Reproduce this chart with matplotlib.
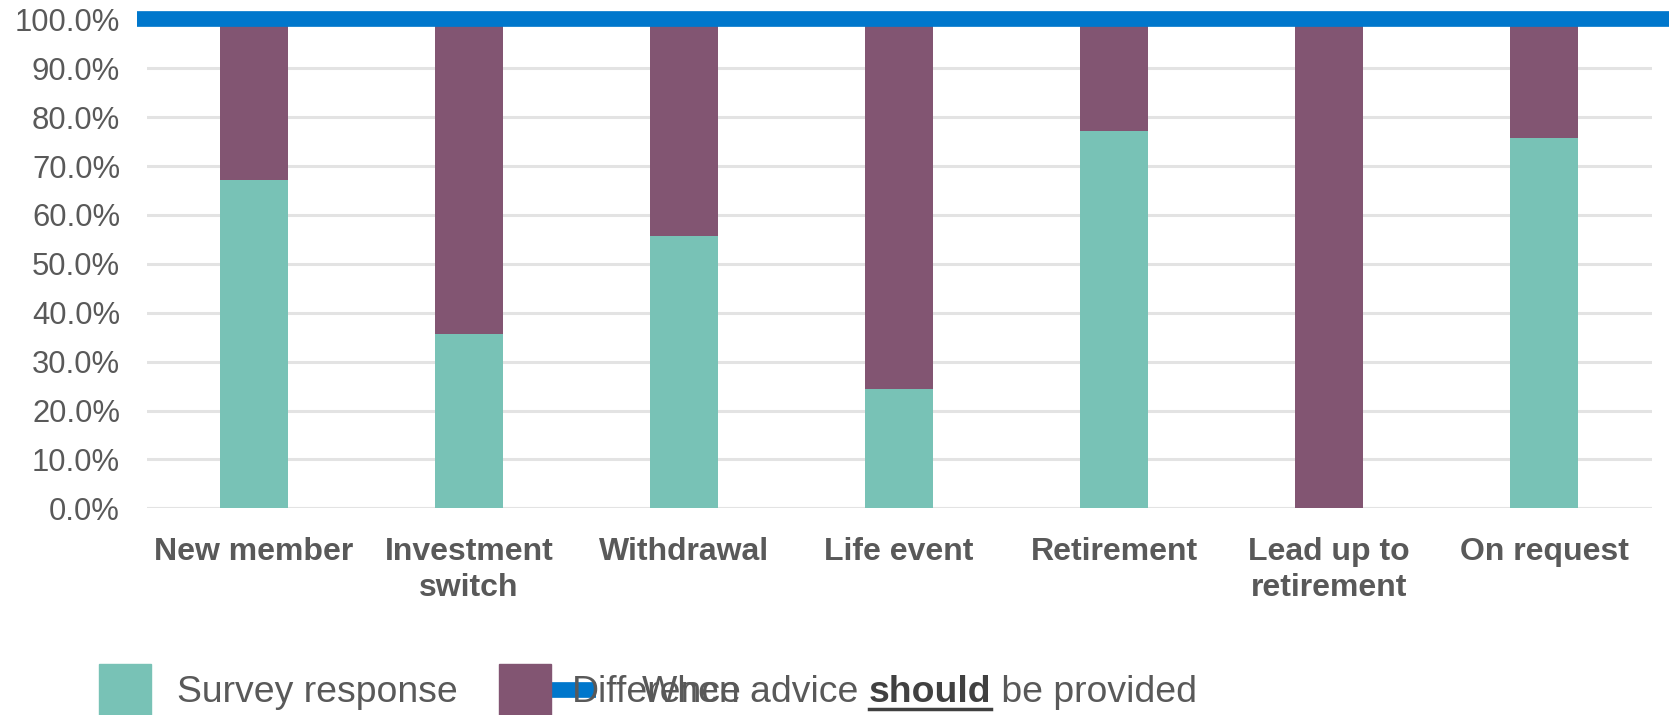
import matplotlib

matplotlib.use("Agg")
import matplotlib.pyplot as plt
from matplotlib.lines import Line2D
from matplotlib.patches import Rectangle
from matplotlib.ticker import PercentFormatter

plt.rcParams["font.family"] = ["Liberation Sans", "DejaVu Sans"]

categories = ["New member", "Investment\nswitch", "Withdrawal", "Life event",
              "Retirement", "Lead up to\nretirement", "On request"]
survey = [0.671, 0.356, 0.556, 0.243, 0.771, 0.0, 0.757]
difference = [1 - s for s in survey]
advice_level = 1.0
yticks = [i / 10 for i in range(11)]

TEAL = "#78C2B6"
PURPLE = "#825572"
BLUE = "#0077CC"
GRID = "#E3E3E3"
TEXT = "#595959"

W, H = 1669, 715
fig = plt.figure(figsize=(W / 100, H / 100), dpi=100, facecolor="white")
ax = fig.add_axes([146.5 / W, 1 - 508.3 / H, 1505 / W, (508.3 - 19.4) / H])

x = range(len(categories))
ax.bar(x, survey, width=0.315, color=TEAL, zorder=2)
ax.bar(x, difference, bottom=survey, width=0.315, color=PURPLE, zorder=2)
ax.axhline(advice_level, color=BLUE, lw=11.3, solid_capstyle="butt", zorder=3,
           clip_on=False, xmin=-0.006, xmax=1.02)

ax.set_xlim(-0.5, len(categories) - 0.5)
ax.set_ylim(0, 1)
ax.set_yticks(yticks)
ax.yaxis.set_major_formatter(PercentFormatter(1.0, decimals=1))
ax.set_xticks(list(x))
ax.set_xticklabels(categories, fontweight="bold", fontsize=23, color=TEXT,
                   linespacing=1.22)
ax.tick_params(axis="y", length=0, pad=19, labelsize=22.3, labelcolor=TEXT)
ax.tick_params(axis="x", length=0, pad=21)
ax.grid(axis="y", color=GRID, lw=2.2, zorder=0)
for s in ax.spines.values():
    s.set_visible(False)
ax.axhline(0, color=GRID, lw=2.2, zorder=1)

# legend drawn by hand, entries laid out in pixel coordinates
def px(xp, yp):
    return xp / W, 1 - yp / H

fig.add_artist(Line2D([px(520, 0)[0], px(596, 0)[0]], [px(0, 689.5)[1]] * 2,
                      color=BLUE, lw=11.3, solid_capstyle="butt", zorder=0.5))
for left, col in [(99, TEAL), (499, PURPLE)]:
    fig.add_artist(Rectangle(px(left, 716), 52 / W, 52 / H, color=col,
                             transform=fig.transFigure, zorder=1))

leg_size = 26.9
base_y = px(0, 702)[1]
fig.text(px(177, 0)[0], base_y, "Survey response", fontsize=leg_size,
         color=TEXT, va="baseline")
fig.text(px(572, 0)[0], base_y, "Difference", fontsize=leg_size,
         color=TEXT, va="baseline")

renderer = fig.canvas.get_renderer()
t1 = fig.text(px(642, 0)[0], base_y, "When advice ", fontsize=leg_size,
              color=TEXT, va="baseline")
e1 = t1.get_window_extent(renderer)
t2 = fig.text(e1.x1 / W, base_y, "should", fontsize=leg_size, color="#404040",
              fontweight="bold", va="baseline")
e2 = t2.get_window_extent(renderer)
fig.text(e2.x1 / W, base_y, " be provided", fontsize=leg_size,
         color=TEXT, va="baseline")
fig.add_artist(Line2D([e2.x0 / W, e2.x1 / W], [px(0, 708.7)[1]] * 2,
                      color="#404040", lw=2.5))

fig.savefig("out.png", dpi=100, facecolor="white")
